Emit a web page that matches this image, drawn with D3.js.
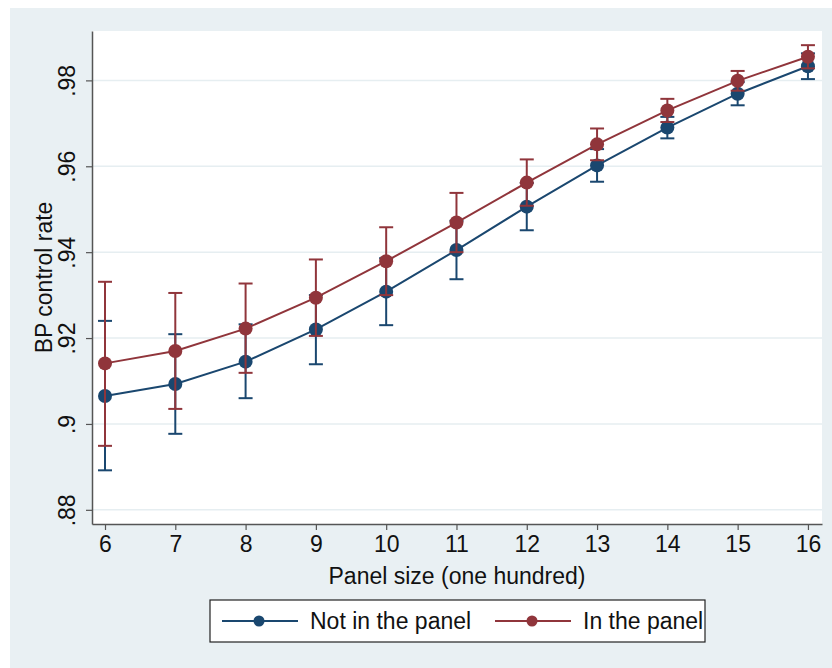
<!DOCTYPE html>
<html>
<head>
<meta charset="utf-8">
<script src="https://cdn.jsdelivr.net/npm/d3@7"></script>
<style>
  body { margin: 0; background: #fff; }
  svg text { font-family: "Liberation Sans", Arial, sans-serif; fill: #111; }
</style>
</head>
<body>
<div id="chart"></div>
<script>
var panelSize = [6, 7, 8, 9, 10, 11, 12, 13, 14, 15, 16];

// Not in the panel
var notMean = [.9065, .9093, .9145, .9220, .9308, .9405, .9506, .9602, .9690, .9769, .9833];
var notLo   = [.8892, .8977, .9060, .9139, .9230, .9337, .9451, .9564, .9665, .9742, .9803];
var notHi   = [.9240, .9209, .9232, .9300, .9386, .9473, .9561, .9640, .9715, .9796, .9863];

// In the panel
var inMean = [.9141, .9170, .9222, .9294, .9379, .9469, .9562, .9651, .9730, .9799, .9855];
var inLo   = [.8949, .9035, .9119, .9205, .9300, .9400, .9508, .9614, .9703, .9776, .9828];
var inHi   = [.9331, .9305, .9327, .9383, .9458, .9538, .9616, .9688, .9757, .9822, .9882];

var yTicks = [.88, .9, .92, .94, .96, .98];
var yTickLabels = [".88", ".9", ".92", ".94", ".96", ".98"];

var series = [
  { name: "Not in the panel", color: "#1a476f", mean: notMean, lo: notLo, hi: notHi },
  { name: "In the panel", color: "#90353b", mean: inMean, lo: inLo, hi: inHi }
];

var width = 832, height = 668;
var plotL = 92, plotR = 822, plotT = 31, plotB = 524;
var fs = 23;

var svg = d3.select("#chart").append("svg")
    .attr("width", width)
    .attr("height", height);

svg.append("rect")
    .attr("x", 10).attr("y", 8)
    .attr("width", width - 10).attr("height", height - 8)
    .attr("fill", "#e9f0f3");

svg.append("rect")
    .attr("x", plotL).attr("y", plotT)
    .attr("width", plotR - plotL).attr("height", plotB - plotT)
    .attr("fill", "#fff");

var x = d3.scaleLinear().domain([5.815, 16.2]).range([plotL, plotR]);
var y = d3.scaleLinear().domain([.8767, .9915]).range([plotB, plotT]);

// gridlines
svg.append("g").selectAll("line")
    .data(yTicks)
    .enter().append("line")
    .attr("x1", plotL).attr("x2", plotR)
    .attr("y1", function (d) { return y(d); })
    .attr("y2", function (d) { return y(d); })
    .attr("stroke", "#e6eef1")
    .attr("stroke-width", 1.5);

// axes
var yAxis = d3.axisLeft(y)
    .tickValues(yTicks)
    .tickFormat(function (d, i) { return yTickLabels[i]; })
    .tickSize(6)
    .tickSizeOuter(0);

var gy = svg.append("g")
    .attr("transform", "translate(" + plotL + ",0)")
    .call(yAxis);
gy.attr("font-size", null).attr("font-family", null);
gy.select(".domain").attr("stroke", "#555").attr("stroke-width", 1.5);
gy.selectAll(".tick line").attr("stroke", "#555").attr("stroke-width", 1.2);
gy.selectAll(".tick text")
    .attr("font-size", fs)
    .attr("transform", "rotate(-90)")
    .attr("x", 0)
    .attr("y", -17)
    .attr("dy", 0)
    .attr("text-anchor", "middle");

var xAxis = d3.axisBottom(x)
    .tickValues(panelSize)
    .tickFormat(d3.format("d"))
    .tickSize(6)
    .tickSizeOuter(0);

var gx = svg.append("g")
    .attr("transform", "translate(0," + plotB + ")")
    .call(xAxis);
gx.attr("font-size", null).attr("font-family", null);
gx.select(".domain").attr("stroke", "#555").attr("stroke-width", 1.5);
gx.selectAll(".tick line").attr("stroke", "#555").attr("stroke-width", 1.2);
gx.selectAll(".tick text")
    .attr("font-size", fs)
    .attr("y", 12)
    .attr("dy", "0.71em");

svg.append("text")
    .attr("x", (plotL + plotR) / 2)
    .attr("y", 584)
    .attr("text-anchor", "middle")
    .attr("font-size", fs)
    .text("Panel size (one hundred)");

svg.append("text")
    .attr("transform", "translate(52," + (plotT + plotB) / 2 + ") rotate(-90)")
    .attr("text-anchor", "middle")
    .attr("font-size", fs)
    .text("BP control rate");

// series
var line = d3.line()
    .x(function (d) { return x(d[0]); })
    .y(function (d) { return y(d[1]); });

series.forEach(function (s) {
    var g = svg.append("g");
    var pts = panelSize.map(function (p, i) { return [p, s.mean[i], s.lo[i], s.hi[i]]; });

    g.selectAll("line.bar")
        .data(pts)
        .enter().append("line")
        .attr("x1", function (d) { return x(d[0]); })
        .attr("x2", function (d) { return x(d[0]); })
        .attr("y1", function (d) { return y(d[2]); })
        .attr("y2", function (d) { return y(d[3]); })
        .attr("stroke", s.color).attr("stroke-width", 2);

    [2, 3].forEach(function (k) {
        g.selectAll("line.cap" + k)
            .data(pts)
            .enter().append("line")
            .attr("x1", function (d) { return x(d[0]) - 7; })
            .attr("x2", function (d) { return x(d[0]) + 7; })
            .attr("y1", function (d) { return y(d[k]); })
            .attr("y2", function (d) { return y(d[k]); })
            .attr("stroke", s.color).attr("stroke-width", 2);
    });

    g.append("path")
        .datum(pts)
        .attr("d", line)
        .attr("fill", "none")
        .attr("stroke", s.color)
        .attr("stroke-width", 2);

    g.selectAll("circle")
        .data(pts)
        .enter().append("circle")
        .attr("cx", function (d) { return x(d[0]); })
        .attr("cy", function (d) { return y(d[1]); })
        .attr("r", 7)
        .attr("fill", s.color);
});

// legend
var legend = svg.append("g");
legend.append("rect")
    .attr("x", 210).attr("y", 600)
    .attr("width", 495).attr("height", 42)
    .attr("fill", "#fff")
    .attr("stroke", "#222")
    .attr("stroke-width", 1.2);

var legX = [222, 495];
series.forEach(function (s, i) {
    var lx = legX[i];
    legend.append("line")
        .attr("x1", lx).attr("x2", lx + 76)
        .attr("y1", 621).attr("y2", 621)
        .attr("stroke", s.color).attr("stroke-width", 2);
    legend.append("circle")
        .attr("cx", lx + 37).attr("cy", 621)
        .attr("r", 5.5)
        .attr("fill", s.color);
    legend.append("text")
        .attr("x", lx + 88).attr("y", 629)
        .attr("font-size", fs)
        .text(s.name);
});
</script>
</body>
</html>
